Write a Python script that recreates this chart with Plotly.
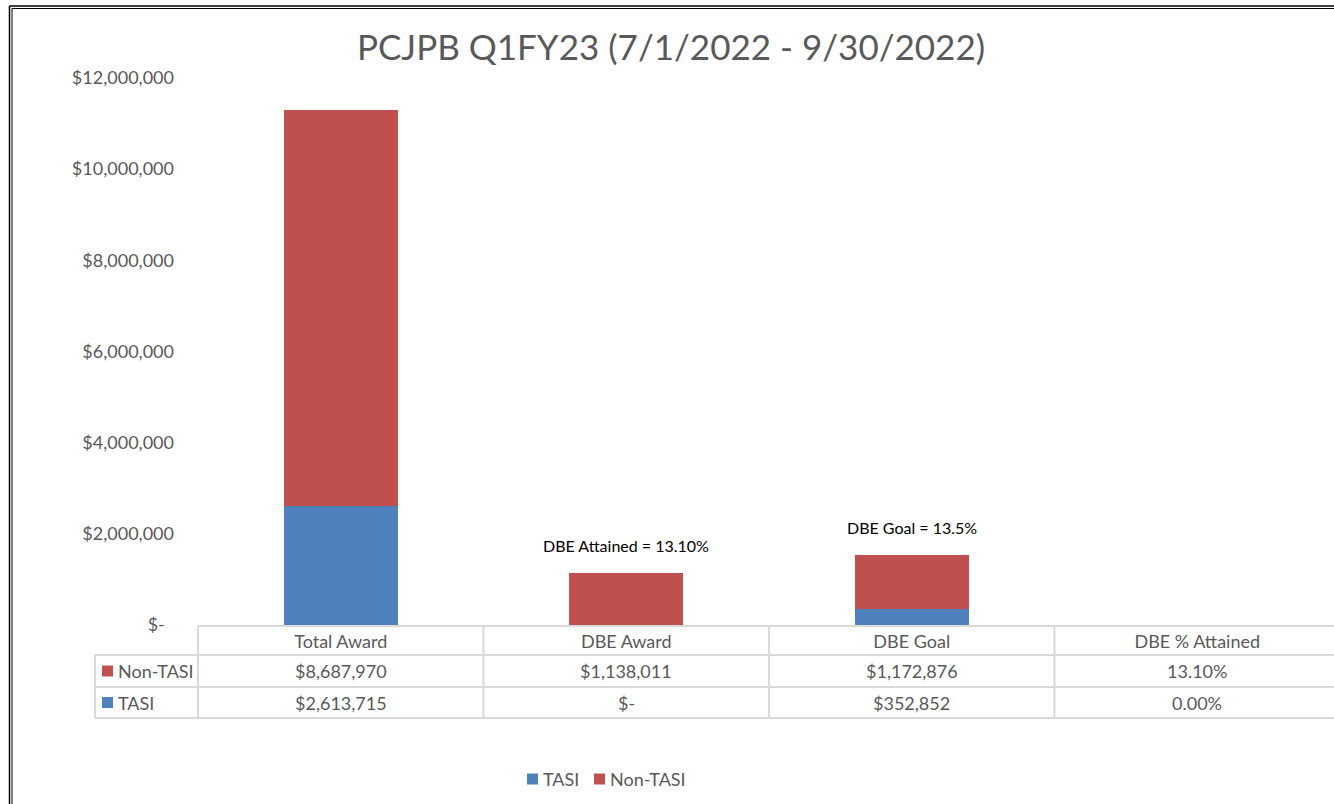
import plotly.graph_objects as go

W, H = 1334, 804

categories = ["Total Award", "DBE Award", "DBE Goal", "DBE % Attained"]
tasi = [2613715, 0, 352852, 0.0]
non_tasi = [8687970, 1138011, 1172876, 0.131]
is_percent = [False, False, False, True]
y_ticks = [0, 2000000, 4000000, 6000000, 8000000, 10000000, 12000000]
title = "PCJPB Q1FY23 (7/1/2022 - 9/30/2022)"
notes = {"DBE Award": "DBE Attained = 13.10%", "DBE Goal": "DBE Goal = 13.5%"}
series_names = ["TASI", "Non-TASI"]

BLUE = "#4F81BD"
RED = "#C0504D"
GRAY = "#595959"
LINE = "#D9D9D9"
FONT = "Lato"
FS = 18


def px(x):
    return x / W


def py(y):
    return 1 - y / H


def fmt(v, pct):
    if pct:
        return f"{v * 100:.2f}%"
    if v == 0:
        return "$-"
    return f"${v:,.0f}"


def ytick(v):
    return "$-\u00a0\u00a0" if v == 0 else f"${v:,.0f}"


PLOT_L, PLOT_B, PLOT_T = 198, 625, 78
CAT_W = 285.5

fig = go.Figure()
fig.add_trace(go.Bar(x=categories, y=tasi, name=series_names[0], showlegend=False,
                     marker=dict(color=BLUE, line=dict(width=0))))
fig.add_trace(go.Bar(x=categories, y=non_tasi, name=series_names[1], showlegend=False,
                     marker=dict(color=RED, line=dict(width=0))))

shapes = []
annotations = []


def hline(y, x0, x1):
    shapes.append(dict(type="line", xref="paper", yref="paper", x0=px(x0), x1=px(x1), y0=py(y), y1=py(y),
                       line=dict(color=LINE, width=2)))


def vline(x, y0, y1):
    shapes.append(dict(type="line", xref="paper", yref="paper", x0=px(x), x1=px(x), y0=py(y0), y1=py(y1),
                       line=dict(color=LINE, width=2)))


def key(x, yc, color):
    shapes.append(dict(type="rect", xref="paper", yref="paper", x0=px(x), x1=px(x + 11), y0=py(yc + 5.5),
                       y1=py(yc - 5.5), fillcolor=color, line=dict(width=0)))


def label(text, x, yc):
    annotations.append(dict(text=text, xref="paper", yref="paper", x=px(x), y=py(yc), xanchor="left",
                            yanchor="middle", showarrow=False, font=dict(family=FONT, size=FS, color=GRAY)))


# data table grid
ROW_TOP, ROW1, ROW2, ROW_BOT = 626, 655, 687, 718
hline(ROW_TOP, PLOT_L, W)
hline(ROW1, 95, W)
hline(ROW2, 95, W)
hline(ROW_BOT, 95, W)
vline(95, ROW1, ROW_BOT)
for i in range(len(categories)):
    vline(PLOT_L + i * CAT_W, ROW_TOP, ROW_BOT)

rows = [(series_names[1], RED, non_tasi, (ROW1 + ROW2) / 2), (series_names[0], BLUE, tasi, (ROW2 + ROW_BOT) / 2)]
for name, color, vals, yc in rows:
    key(102, yc, color)
    label(name, 116, yc)
    for i, v in enumerate(vals):
        annotations.append(dict(text=fmt(v, is_percent[i]), xref="paper", yref="paper",
                                x=px(PLOT_L + (i + 0.5) * CAT_W), y=py(yc), xanchor="center", yanchor="middle",
                                showarrow=False, font=dict(family=FONT, size=FS, color=GRAY)))

# notes above bars
for i, c in enumerate(categories):
    if c in notes:
        annotations.append(dict(text=notes[c], x=c, y=tasi[i] + non_tasi[i], xref="x", yref="y", yshift=28,
                                xanchor="center", yanchor="middle", showarrow=False,
                                font=dict(family=FONT, size=16, color="black")))

# bottom legend
LEG_Y = 779
key(527, LEG_Y, BLUE)
label(series_names[0], 541, LEG_Y)
key(594, LEG_Y, RED)
label(series_names[1], 608, LEG_Y)

# outer double border (left and top)
for off, wdt in ((9.5, 1.5), (12, 1)):
    shapes.append(dict(type="line", xref="paper", yref="paper", x0=px(off), x1=px(off), y0=py(off - 3.5), y1=0,
                       line=dict(color="black", width=wdt)))
    shapes.append(dict(type="line", xref="paper", yref="paper", x0=px(off), x1=1, y0=py(off - 3.5),
                       y1=py(off - 3.5), line=dict(color="black", width=wdt)))

fig.update_layout(
    width=W, height=H, autosize=False,
    margin=dict(l=0, r=0, t=0, b=0, pad=0, autoexpand=False),
    paper_bgcolor="white", plot_bgcolor="white",
    barmode="stack", bargap=0.6,
    font=dict(family=FONT, color=GRAY),
    showlegend=False,
    title=dict(text=title, x=px(671), y=py(48), xanchor="center", yanchor="middle", automargin=False,
               font=dict(family=FONT, size=35, color=GRAY)),
    xaxis=dict(domain=[px(PLOT_L), 1], range=[-0.5, -0.5 + (W - PLOT_L) / CAT_W], automargin=False,
               showgrid=False, zeroline=False, showline=False, ticks="",
               tickfont=dict(family=FONT, size=FS, color=GRAY), ticklabelstandoff=4),
    yaxis=dict(domain=[py(PLOT_B), py(PLOT_T)], range=[0, 12000000], automargin=False,
               tickvals=y_ticks, ticktext=[ytick(v) for v in y_ticks],
               showgrid=False, zeroline=False, showline=False, ticks="",
               tickfont=dict(family=FONT, size=FS, color=GRAY), ticklabelstandoff=23),
    shapes=shapes, annotations=annotations,
)

fig.write_html("out.html", config={"displayModeBar": False},
               post_script="document.body.style.margin='0';document.body.style.overflow='hidden';")
